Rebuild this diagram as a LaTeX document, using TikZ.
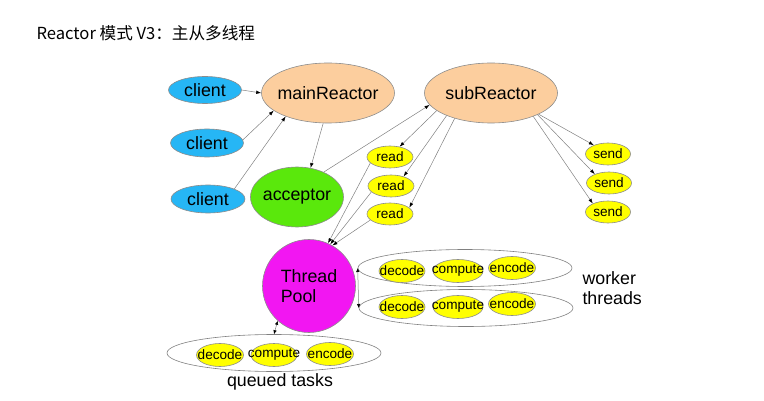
\documentclass[tikz,border=0pt]{standalone}
\usepackage{fontspec}
\setmainfont{Liberation Sans}
\newfontfamily\cjk{Noto Sans CJK SC}
\usetikzlibrary{shapes.geometric,arrows.meta}
\definecolor{clientblue}{RGB}{38,182,245}
\definecolor{reactorpeach}{RGB}{252,206,158}
\definecolor{acceptgreen}{RGB}{90,232,12}
\definecolor{poolpink}{RGB}{242,22,242}
\definecolor{taskyellow}{RGB}{255,255,0}

\begin{document}
\begin{tikzpicture}[x=1pt,y=-1pt,
  ell/.style={ellipse,draw=gray!90,line width=0.6pt,inner xsep=-20pt,inner ysep=-10pt},
  big/.style={ell,font=\fontsize{17.8}{20}\selectfont},
  small/.style={ell,fill=taskyellow,font=\fontsize{13.6}{15}\selectfont,minimum width=46pt,minimum height=23pt},
  box/.style={ellipse,draw=gray,line width=0.6pt,fill=white,minimum width=214pt,minimum height=37pt,inner sep=0pt},
  arr/.style={draw=gray,line width=0.5pt,-{Latex[length=5pt,width=3.5pt,color=black]}},
  darr/.style={draw=gray,line width=0.5pt,{Latex[length=4pt,width=3.5pt,color=black]}-{Latex[length=4pt,width=3.5pt,color=black]}}]
\useasboundingbox (0,0) rectangle (764,401);
\node[anchor=west,font=\cjk\fontsize{16.6}{19}\selectfont] (title) at (33,33) {Reactor 模式 V3：主从多线程};
\node[big,fill=clientblue,minimum width=73pt,minimum height=27pt] (client1) at (205,90) {client};
\node[big,fill=clientblue,minimum width=73pt,minimum height=28pt] (client2) at (207,143) {client};
\node[big,fill=clientblue,minimum width=74pt,minimum height=28pt] (client3) at (208,199) {client};
\node[big,fill=reactorpeach,minimum width=133pt,minimum height=60pt] (mainR) at (328,93) {mainReactor};
\node[big,fill=reactorpeach,minimum width=133pt,minimum height=60pt] (subR) at (491,93) {subReactor};
\node[big,fill=acceptgreen,minimum width=93pt,minimum height=60pt] (acc) at (297,197) {acceptor};
\node[small,minimum height=22pt] (read1) at (390,157) {read};
\node[small,minimum height=22pt] (read2) at (391,186) {read};
\node[small,minimum height=22pt] (read3) at (390,214) {read};
\node[small,minimum width=45pt,minimum height=22pt] (send1) at (608,154) {send};
\node[small,minimum width=45pt,minimum height=22pt] (send2) at (609,183) {send};
\node[small,minimum width=45pt,minimum height=22pt] (send3) at (608,212) {send};
\node[circle,draw=gray!90,line width=0.6pt,fill=poolpink,minimum size=93pt,inner sep=-20pt,
  align=left,font=\fontsize{17.8}{19.5}\selectfont] (pool) at (309,286) {Thread\\Pool};
\node[box] (work1) at (465,268) {};
\node[box] (work2) at (466,308) {};
\node[box] (queue) at (274,353) {};
\node[small] (decode1) at (402,271) {decode};
\node[small,minimum width=50pt] (compute1) at (458,271) {compute};
\node[small,minimum width=47pt] (encode1) at (512,268) {encode};
\node[small] (decode2) at (402,307) {decode};
\node[small,minimum width=50pt] (compute2) at (458,307) {compute};
\node[small,minimum width=47pt] (encode2) at (512,304) {encode};
\node[small,minimum width=47pt] (decode3) at (220,355) {decode};
\node[small] (compute3) at (274,355) {compute};
\node[small,minimum width=47pt] (encode3) at (330,354) {encode};
\node[anchor=west,align=left,font=\fontsize{17.8}{19.5}\selectfont] (workers) at (579,288) {worker\\threads};
\node[font=\fontsize{17.8}{20}\selectfont] (queued) at (280,382) {queued tasks};
\draw[arr] (client1.east) -- (mainR.west);
\draw[arr] (client2.5) -- (mainR.198);
\draw[arr] (client3.21) -- (mainR.209);
\draw[arr] (mainR.261) -- (acc.65);
\draw[arr] (acc.43) -- (subR.191);
\draw[arr] (subR.198) -- (read1.47);
\draw[arr] (subR.207) -- (read2.37);
\draw[arr] (subR.215) -- (read3.18);
\draw[arr] (subR.336) -- (send1.148);
\draw[arr] (subR.335) -- (send2.148);
\draw[arr] (subR.331) -- (send3.151);
\draw[arr] (read1.197) -- (pool.66);
\draw[arr] (read2.197) -- (pool.63);
\draw[arr] (read3.197) -- (pool.60);
\draw[darr] (work1.west) -- (work2.west);
\draw[darr] (pool.228) -- (queue.north);
\end{tikzpicture}
\end{document}
